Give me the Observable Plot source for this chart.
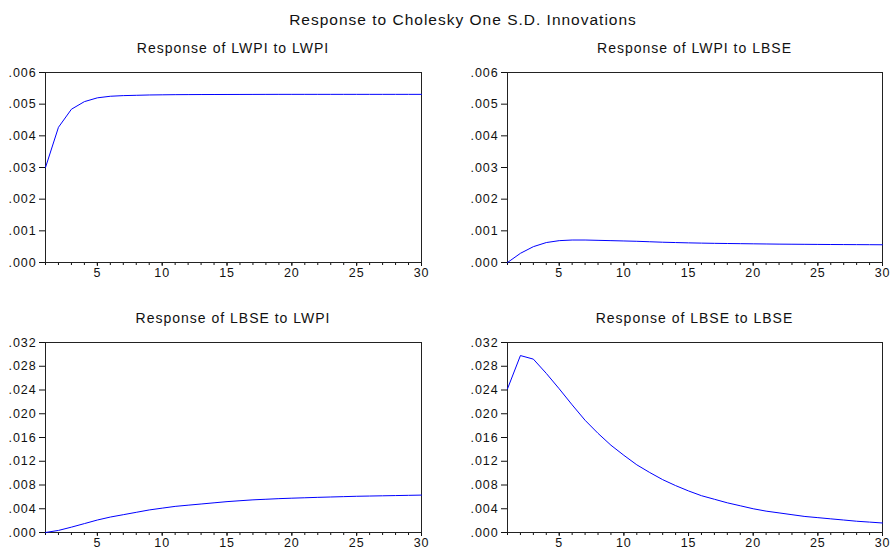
<!DOCTYPE html>
<html><head><meta charset="utf-8">
<script src="https://cdn.jsdelivr.net/npm/d3@7"></script>
<script src="https://cdn.jsdelivr.net/npm/@observablehq/plot@0.6"></script>
<style>
body{margin:0;background:#fff;}
#wrap{position:relative;width:890px;height:550px;overflow:hidden;font-family:"Liberation Sans",Arial,sans-serif;background:#fff;}
.t{position:absolute;color:#111;white-space:nowrap;transform:translateX(-50%);line-height:16px;letter-spacing:1px;}
.p{position:absolute;}
.p svg{overflow:visible;}
.p svg text{letter-spacing:0.9px;}
</style></head><body><div id="wrap"></div>
<script>
const periods = [1,2,3,4,5,6,7,8,9,10,11,12,13,14,15,16,17,18,19,20,21,22,23,24,25,26,27,28,29,30];
const majorTicks = [5,10,15,20,25,30];

const lwpiToLwpi = [0.00300,0.00427,0.00484,0.00508,0.00520,0.00525,0.00527,0.00528,0.00529,0.005295,0.00530,0.005302,0.005304,0.005305,0.005306,0.005307,0.005308,0.005309,0.00531,0.00531,0.00531,0.00531,0.00531,0.00531,0.00531,0.00531,0.00531,0.00531,0.00531,0.00531];
const lwpiToLbse = [0.00000,0.00029,0.00050,0.00063,0.00069,0.00071,0.00071,0.00070,0.00069,0.00068,0.00067,0.000655,0.00064,0.00063,0.00062,0.000612,0.000605,0.00060,0.000595,0.00059,0.000585,0.00058,0.000577,0.000574,0.000571,0.000568,0.000566,0.000564,0.000562,0.00056];
const lbseToLwpi = [0.0000,0.00035,0.0009,0.0015,0.0021,0.0026,0.0030,0.0034,0.0038,0.0041,0.0044,0.0046,0.0048,0.0050,0.0052,0.00535,0.0055,0.0056,0.0057,0.00578,0.00585,0.00592,0.00598,0.00604,0.0061,0.00614,0.00618,0.00622,0.00626,0.0063];
const lbseToLbse = [0.0242,0.0298,0.0292,0.0268,0.0242,0.0215,0.0189,0.0167,0.0147,0.0130,0.0114,0.0101,0.0089,0.0079,0.0070,0.0062,0.0056,0.0050,0.0045,0.0040,0.0036,0.0033,0.0030,0.0027,0.0025,0.0023,0.0021,0.0019,0.00175,0.0016];

const yTicksSmall = [0,0.001,0.002,0.003,0.004,0.005,0.006];
const yTicksLarge = [0,0.004,0.008,0.012,0.016,0.020,0.024,0.028,0.032];

const mainTitle = "Response to Cholesky One S.D. Innovations";
const panels = [
  {title:"Response of LWPI to LWPI", values:lwpiToLwpi, ticks:yTicksSmall, left:0, top:60, ml:45, mr:24, h:225, mb:23},
  {title:"Response of LWPI to LBSE", values:lwpiToLbse, ticks:yTicksSmall, left:445, top:60, ml:62, mr:8, h:225, mb:23},
  {title:"Response of LBSE to LWPI", values:lbseToLwpi, ticks:yTicksLarge, left:0, top:330, ml:45, mr:24, h:220, mb:18},
  {title:"Response of LBSE to LBSE", values:lbseToLbse, ticks:yTicksLarge, left:445, top:330, ml:62, mr:8, h:220, mb:18}
];

const fmt = d => d3.format(".3f")(d).replace(/^0/, "");
const wrap = document.getElementById("wrap");

function addText(txt, cx, top, size) {
  const d = document.createElement("div");
  d.className = "t";
  d.style.left = cx + "px";
  d.style.top = top + "px";
  d.style.fontSize = size + "px";
  d.textContent = txt;
  wrap.appendChild(d);
}

addText(mainTitle, 463, 12, 15.5);

panels.forEach(p => {
  const data = periods.map((x, i) => ({period: x, value: p.values[i]}));
  const chart = Plot.plot({
    width: 445, height: p.h,
    marginTop: 12, marginBottom: p.mb, marginLeft: p.ml, marginRight: p.mr,
    x: {domain: [1, 30]},
    y: {domain: [0, p.ticks[p.ticks.length - 1]]},
    style: {fontFamily: "Liberation Sans, Arial, sans-serif", fontSize: "12.5px", color: "#111", background: "transparent", overflow: "visible"},
    marks: [
      Plot.axisY({ticks: p.ticks, tickSize: 6, tickPadding: 3, tickFormat: fmt, label: null}),
      Plot.axisX({ticks: periods, tickSize: 3, tickFormat: () => "", label: null}),
      Plot.axisX({ticks: majorTicks, tickSize: 4, tickPadding: 2, label: null}),
      Plot.frame({stroke: "#222"}),
      Plot.line(data, {x: "period", y: "value", stroke: "#0000ff", strokeWidth: 1})
    ]
  });
  const holder = document.createElement("div");
  holder.className = "p";
  holder.style.left = p.left + "px";
  holder.style.top = p.top + "px";
  holder.appendChild(chart);
  wrap.appendChild(holder);
  const cx = p.left + p.ml + (445 - p.ml - p.mr) / 2;
  addText(p.title, cx, p.top - 20, 14);
});
</script>
</body></html>
